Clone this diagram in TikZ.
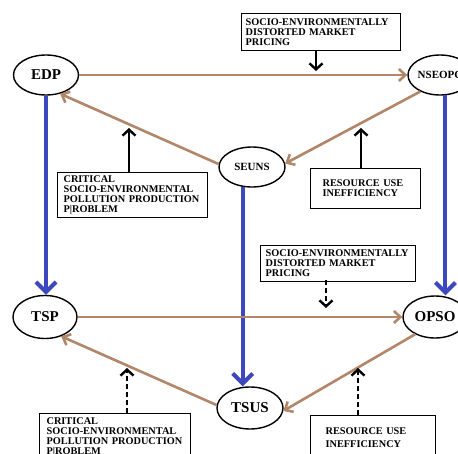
\documentclass[tikz,border=0pt]{standalone}
\usepackage{fontspec}
\setmainfont{Liberation Serif}
\usetikzlibrary{arrows.meta,shapes.geometric}
\definecolor{brn}{RGB}{178,134,104}
\definecolor{blu}{RGB}{62,72,190}
\begin{document}
\begin{tikzpicture}[x=1pt,y=-1pt,
  ell/.style={ellipse,draw,line width=1.4pt,inner sep=0pt,font=\fontsize{15}{15}\selectfont\bfseries},
  ells/.style={ell,font=\fontsize{11}{11}\selectfont\bfseries},
  txtbox/.style={draw,line width=1.2pt,anchor=north west,align=left,inner ysep=3pt,
    font=\fontsize{10.3}{10}\selectfont\bfseries},
  bluarrow/.style={draw=blu,line width=4pt,-{Straight Barb[length=10pt,width=20pt]}},
  brnarrow/.style={draw=brn,line width=2.6pt,-{Straight Barb[length=6.5pt,width=12pt]}},
  blkarrow/.style={line width=2.4pt,-{Straight Barb[length=6pt,width=13pt]}},
  blkdash/.style={blkarrow,dash pattern=on 5pt off 3pt}]
\useasboundingbox (0,0) rectangle (458,453);
\fill[white] (0,0) rectangle (458,453);

% ellipses
\node[ell,minimum width=65pt,minimum height=40pt] (EDP) at (46,75) {EDP};
\node[ells,minimum width=64pt,minimum height=40pt] (NSE) at (440,75) {NSEOPC};
\node[ells,minimum width=66pt,minimum height=40pt] (SEUNS) at (252,167) {SEUNS};
\node[ell,minimum width=64pt,minimum height=43pt] (TSP) at (45,317) {TSP};
\node[ell,minimum width=64pt,minimum height=42pt] (OPSO) at (435,317) {OPSO};
\node[ell,minimum width=66pt,minimum height=42pt] (TSUS) at (250,408) {TSUS};

% boxes
\node[txtbox,inner xsep=4pt,text width=151pt,minimum height=37pt] (pricetop) at (241,13)
  {SOCIO-ENVIRONMENTALLY\\DISTORTED MARKET\\PRICING};
\node[txtbox,inner xsep=6pt,text width=138pt,minimum height=45pt] (crittop) at (57,172)
  {CRITICAL\\SOCIO-ENVIRONMENTAL\\POLLUTION PRODUCTION\\P|ROBLEM};
\node[txtbox,inner xsep=12pt,text width=86pt,minimum height=40pt] (restop) at (310,168)
  {RESOURCE USE\\INEFFICIENCY};
\node[txtbox,inner xsep=5pt,text width=145pt,minimum height=36pt] (pricebot) at (260,245)
  {SOCIO-ENVIRONMENTALLY\\DISTORTED MARKET\\PRICING};
\node[txtbox,inner xsep=7pt,text width=137pt,minimum height=48pt] (critbot) at (39,413)
  {CRITICAL\\SOCIO-ENVIRONMENTAL\\POLLUTION PRODUCTION\\P|ROBLEM};
\node[txtbox,inner xsep=15pt,text width=95pt,minimum height=45pt,
  font=\fontsize{10.3}{13}\selectfont\bfseries] (resbot) at (310,415)
  {RESOURCE USE\\INEFFICIENCY};

% blue arrows
\draw[bluarrow] (EDP.south) -- (EDP.south |- TSP.north);
\draw[bluarrow] (NSE.-75) -- (NSE.-75 |- OPSO.north);
\draw[bluarrow] (SEUNS.-115) -- (SEUNS.-115 |- TSUS.north);

% brown arrows
\draw[brnarrow] (EDP.east) -- (NSE.west);
\draw[brnarrow] (NSE.220) -- (SEUNS.6);
\draw[brnarrow] (SEUNS.175) -- (EDP.-53);
\draw[brnarrow] (TSP.east) -- (OPSO.west);
\draw[brnarrow] (OPSO.221) -- (TSUS.-5);
\draw[brnarrow] (TSUS.175) -- (TSP.-50);

% black arrows
\coordinate (a1) at (316,71);
\coordinate (a2) at (129,128);
\coordinate (a3) at (361,128);
\coordinate (a4) at (326,308);
\coordinate (a5) at (127,368);
\coordinate (a6) at (358,368);
\draw[blkarrow] (a1 |- pricetop.south) -- (a1);
\draw[blkarrow] (a2 |- crittop.north) -- (a2);
\draw[blkarrow] (a3 |- restop.north) -- (a3);
\draw[blkdash] ([yshift=2pt]a4 |- pricebot.south) -- (a4);
\draw[blkdash] (a5 |- critbot.north) -- (a5);
\draw[blkdash] (a6 |- resbot.north) -- (a6);
\end{tikzpicture}
\end{document}
